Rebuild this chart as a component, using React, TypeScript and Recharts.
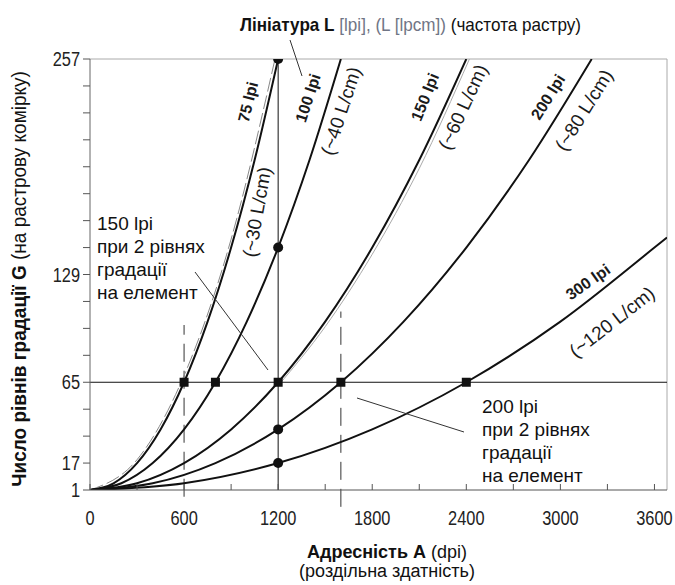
import React from "react";
import {
  ComposedChart,
  Line,
  Scatter,
  XAxis,
  YAxis,
  ReferenceLine,
} from "recharts";

// screen ruling curves: addressability A (dpi) -> grey levels G
const lpi75 = [
  { a: 0, g: 1 }, { a: 150, g: 5 }, { a: 300, g: 17 }, { a: 450, g: 37 },
  { a: 600, g: 65 }, { a: 750, g: 101 }, { a: 900, g: 145 },
  { a: 1050, g: 197 }, { a: 1200, g: 257 },
];
const lpi75Ref = [
  { a: 0, g: 1 }, { a: 300, g: 19 }, { a: 600, g: 69 },
  { a: 900, g: 150 }, { a: 1180, g: 257 },
];
const lpi100 = [
  { a: 0, g: 1 }, { a: 200, g: 5 }, { a: 400, g: 17 }, { a: 600, g: 37 },
  { a: 800, g: 65 }, { a: 1000, g: 101 }, { a: 1200, g: 145 },
  { a: 1400, g: 197 }, { a: 1600, g: 257 },
];
const lpi150 = [
  { a: 0, g: 1 }, { a: 300, g: 5 }, { a: 600, g: 17 }, { a: 900, g: 37 },
  { a: 1200, g: 65 }, { a: 1500, g: 101 }, { a: 1800, g: 145 },
  { a: 2100, g: 197 }, { a: 2400, g: 257 },
];
const lpi150Ref = [
  { a: 1200, g: 63 }, { a: 1500, g: 98 }, { a: 1800, g: 141 },
  { a: 2100, g: 192 }, { a: 2420, g: 257 },
];
const lpi200 = [
  { a: 0, g: 1 }, { a: 400, g: 5 }, { a: 800, g: 17 }, { a: 1200, g: 37 },
  { a: 1600, g: 65 }, { a: 2000, g: 101 }, { a: 2400, g: 145 },
  { a: 2800, g: 197 }, { a: 3200, g: 257 },
];
const lpi300 = [
  { a: 0, g: 1 }, { a: 600, g: 5 }, { a: 1200, g: 17 }, { a: 1800, g: 37 },
  { a: 2400, g: 65 }, { a: 3000, g: 101 }, { a: 3600, g: 145 },
  { a: 3680, g: 151 },
];

const squares = [
  { a: 600, g: 65 }, { a: 800, g: 65 }, { a: 1200, g: 65 },
  { a: 1600, g: 65 }, { a: 2400, g: 65 },
];
const circles = [
  { a: 1200, g: 257 }, { a: 1200, g: 145 }, { a: 1200, g: 37 }, { a: 1200, g: 17 },
];

const xTicks = [0, 300, 600, 900, 1200, 1500, 1800, 2100, 2400, 2700, 3000, 3300, 3600];
const xLabels = [0, 600, 1200, 1800, 2400, 3000, 3600];
const yTicks = [1, 17, 33, 49, 65, 81, 97, 113, 129, 145, 161, 177, 193, 209, 225, 241, 257];
const yLabels = [1, 17, 65, 129, 257];

const FONT = "'Liberation Sans', Arial, sans-serif";
const INK = "#111";

const XTick = (props: any) => {
  const { x, y, payload } = props;
  const show = xLabels.includes(payload.value);
  return (
    <g>
      <line x1={x} y1={y - 6} x2={x} y2={y} stroke="#555" />
      {show && (
        <text
          transform={`translate(${x},${y + 35}) scale(0.78,1)`}
          textAnchor="middle"
          fontSize={21}
          fill="#222"
          fontFamily={FONT}
        >
          {payload.value}
        </text>
      )}
    </g>
  );
};

const YTick = (props: any) => {
  const { x, y, payload } = props;
  const show = yLabels.includes(payload.value);
  return (
    <g>
      <line x1={x - 7} y1={y} x2={x} y2={y} stroke="#555" />
      {show && (
        <text
          transform={`translate(${x - 10},${y + 7}) scale(0.78,1)`}
          textAnchor="end"
          fontSize={21}
          fill="#222"
          fontFamily={FONT}
        >
          {payload.value}
        </text>
      )}
    </g>
  );
};

const Square = (props: any) => (
  <rect x={props.cx - 4.5} y={props.cy - 4.5} width={9} height={9} fill={INK} />
);
const Dot = (props: any) => <circle cx={props.cx} cy={props.cy} r={5} fill={INK} />;

// rotated labels along curves
const CurveLabel = ({ x, y, r, bold, size, children }: any) => (
  <text
    transform={`translate(${x},${y}) rotate(${r})`}
    textAnchor="middle"
    dominantBaseline="central"
    fontSize={size}
    fontWeight={bold ? "bold" : "normal"}
    fill="#1a1a1a"
    fontFamily={FONT}
  >
    {children}
  </text>
);

export default function App() {
  return (
    <div style={{ position: "absolute", left: 0, top: 0, width: 675, height: 585, background: "#fff" }}>
      <ComposedChart
        width={675}
        height={585}
        margin={{ top: 59, right: 8, bottom: 65, left: 40 }}
      >
        <XAxis
          type="number"
          dataKey="a"
          domain={[0, 3680]}
          ticks={xTicks}
          tick={<XTick />}
          tickSize={0}
          tickMargin={0}
          axisLine={{ stroke: "#555" }}
          height={30}
          allowDataOverflow
        />
        <YAxis
          type="number"
          dataKey="g"
          domain={[1, 257]}
          ticks={yTicks}
          tick={<YTick />}
          tickSize={0}
          tickMargin={0}
          axisLine={{ stroke: "#666" }}
          width={50}
          allowDataOverflow
        />
        <ReferenceLine y={257} stroke="#aaa" />
        <ReferenceLine x={3680} stroke="#aaa" />
        <ReferenceLine x={1200} stroke={INK} />
        <ReferenceLine y={65} stroke={INK} />
        <ReferenceLine
          segment={[{ x: 600, y: -3 }, { x: 600, y: 99 }]}
          stroke="#333"
          strokeDasharray="18 9"
          ifOverflow="visible"
        />
        <ReferenceLine
          segment={[{ x: 1600, y: -9 }, { x: 1600, y: 107 }]}
          stroke="#333"
          strokeDasharray="18 9"
          ifOverflow="visible"
        />

        <Line data={lpi75Ref} dataKey="g" type="monotone" stroke="#888" strokeWidth={1} strokeDasharray="14 4" dot={false} isAnimationActive={false} />
        <Line data={lpi150Ref} dataKey="g" type="monotone" stroke="#aaa" strokeWidth={1} dot={false} isAnimationActive={false} />
        <Line data={lpi75} dataKey="g" type="monotone" stroke={INK} strokeWidth={2} dot={false} isAnimationActive={false} />
        <Line data={lpi100} dataKey="g" type="monotone" stroke={INK} strokeWidth={2} dot={false} isAnimationActive={false} />
        <Line data={lpi150} dataKey="g" type="monotone" stroke={INK} strokeWidth={2} dot={false} isAnimationActive={false} />
        <Line data={lpi200} dataKey="g" type="monotone" stroke={INK} strokeWidth={2} dot={false} isAnimationActive={false} />
        <Line data={lpi300} dataKey="g" type="monotone" stroke={INK} strokeWidth={2} dot={false} isAnimationActive={false} />

        <Scatter data={squares} shape={<Square />} isAnimationActive={false} />
        <Scatter data={circles} shape={<Dot />} isAnimationActive={false} />
      </ComposedChart>

      {/* text annotations laid over the plot */}
      <svg
        width={675}
        height={585}
        style={{ position: "absolute", left: 0, top: 0, pointerEvents: "none" }}
        fontFamily={FONT}
      >
        <text transform="translate(240,31) scale(0.95,1)" fontSize={18} fill="#111">
          <tspan fontWeight="bold">Лініатура L</tspan>
          <tspan fill="#707585"> [lpi], (L [lpcm])</tspan>
          <tspan> (частота растру)</tspan>
        </text>
        <line x1={290} y1={40} x2={302} y2={76} stroke="#333" />

        <CurveLabel x={248} y={102} r={-76} bold size={16}>75 lpi</CurveLabel>
        <CurveLabel x={257} y={212} r={-80} size={19}>(~30 L/cm)</CurveLabel>
        <CurveLabel x={308} y={98} r={-72} bold size={16}>100 lpi</CurveLabel>
        <CurveLabel x={341} y={111} r={-72} size={19}>(~40 L/cm)</CurveLabel>
        <CurveLabel x={425} y={97} r={-68} bold size={16}>150 lpi</CurveLabel>
        <CurveLabel x={463} y={107} r={-65} size={19}>(~60 L/cm)</CurveLabel>
        <CurveLabel x={548} y={97} r={-58} bold size={16}>200 lpi</CurveLabel>
        <CurveLabel x={584} y={110} r={-58} size={19}>(~80 L/cm)</CurveLabel>
        <CurveLabel x={588} y={282} r={-35} bold size={16}>300 lpi</CurveLabel>
        <CurveLabel x={612} y={322} r={-38} size={19}>(~120 L/cm)</CurveLabel>

        <g fontSize={19} fill="#111">
          <text x={97} y={230}>150 lpi</text>
          <text x={97} y={253}>при 2 рівнях</text>
          <text x={97} y={276}>градації</text>
          <text x={97} y={299}>на елемент</text>
        </g>
        <line x1={195} y1={272} x2={268} y2={370} stroke="#333" />

        <g fontSize={19} fill="#111">
          <text x={482} y={413}>200 lpi</text>
          <text x={482} y={436}>при 2 рівнях</text>
          <text x={482} y={459}>градації</text>
          <text x={482} y={482}>на елемент</text>
        </g>
        <line x1={357} y1={398} x2={464} y2={432} stroke="#333" />

        <text x={387} y={558} textAnchor="middle" fontSize={18} fill="#111">
          <tspan fontWeight="bold">Адресність А</tspan>
          <tspan>{"  (dpi)"}</tspan>
        </text>
        <text x={387} y={577} textAnchor="middle" fontSize={18} fill="#111">
          (роздільна здатність)
        </text>

        <text transform="translate(26,279) rotate(-90) scale(0.95,1)" textAnchor="middle" fontSize={20} fill="#111">
          <tspan fontWeight="bold">Число рівнів градації G</tspan>
          <tspan> (на растрову комірку)</tspan>
        </text>
      </svg>
    </div>
  );
}
